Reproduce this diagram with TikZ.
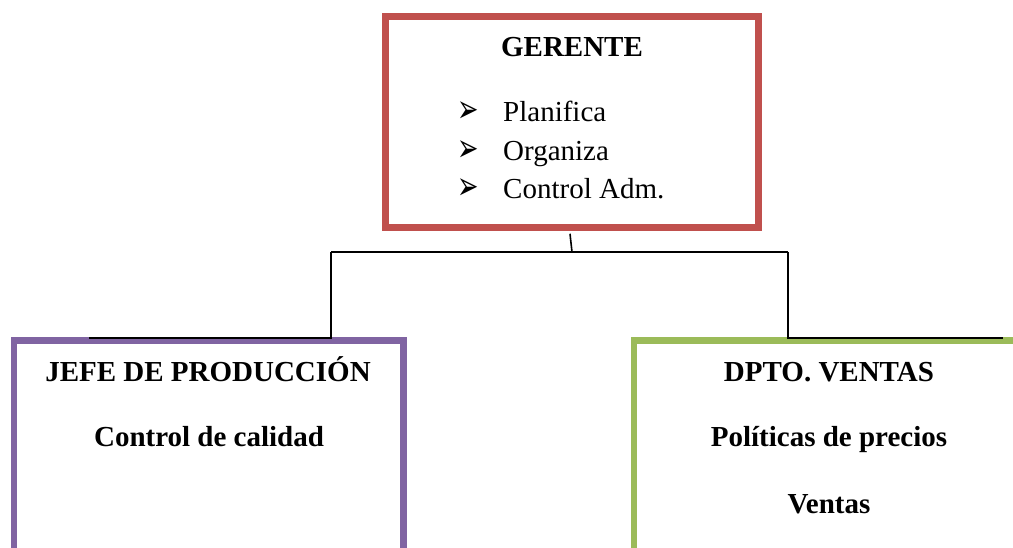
\documentclass[tikz,border=0pt]{standalone}
\usepackage{fontspec}
\setmainfont{Liberation Serif}
\newfontfamily\dingfont{DejaVu Sans}
\definecolor{redbox}{HTML}{C0504D}
\definecolor{purplebox}{HTML}{8064A2}
\definecolor{greenbox}{HTML}{9BBB59}
\begin{document}
\begin{tikzpicture}[x=1bp,y=-1bp,
  box/.style={draw, line width=6.5bp, rectangle, inner sep=0pt},
  conn/.style={draw=black, line width=1.6bp},
  txt/.style={inner sep=0pt, font=\fontsize{29bp}{35bp}\selectfont},
  btxt/.style={txt, font=\fontsize{29bp}{35bp}\selectfont\bfseries},
  bul/.style={inner sep=0pt, transform shape, xscale=0.95, yscale=1.45, font=\fontsize{27bp}{32bp}\selectfont\dingfont}]
\clip (0,0) rectangle (1013,548);
% boxes
\node[box, draw=redbox, minimum width=373bp, minimum height=211bp] (gerente) at (572,122) {};
\node[box, draw=purplebox, minimum width=389.5bp, minimum height=300bp] (jefe) at (208.75,490.5) {};
\node[box, draw=greenbox, minimum width=500bp, minimum height=300bp] (ventas) at (884,490.5) {};
% texts
\node[btxt, anchor=base] (tg) at (572,57) {GERENTE};
\node[bul, anchor=base west] (b1) at (457,123) {➢};
\node[bul, anchor=base west] (b2) at (457,162) {➢};
\node[bul, anchor=base west] (b3) at (457,200) {➢};
\node[txt, anchor=base west] (t1) at (503,122) {Planifica};
\node[txt, anchor=base west] (t2) at (503,161) {Organiza};
\node[txt, anchor=base west] (t3) at (503,199) {Control Adm.};
\node[btxt, anchor=base] (tj1) at (208,382) {JEFE DE PRODUCCIÓN};
\node[btxt, anchor=base] (tj2) at (209,446) {Control de calidad};
\node[btxt, anchor=base] (tv1) at (829,382) {DPTO. VENTAS};
\node[btxt, anchor=base] (tv2) at (829,446) {Políticas de precios};
\node[btxt, anchor=base] (tv3) at (829,513) {Ventas};
% connectors
\coordinate (gs) at ([xshift=-2bp,yshift=-3bp]gerente.south);
\coordinate (j) at (572,252);
\coordinate (jl) at (331,252);
\coordinate (jr) at (788,252);
\coordinate (ll) at (331,338);
\coordinate (lle) at (89,338);
\coordinate (rr) at (788,338);
\coordinate (rre) at (1003,338);
\draw[conn] (gs) -- (j);
\draw[conn] (jl) -- (jr);
\draw[conn] (jl) -- (ll) -- (lle);
\draw[conn] (jr) -- (rr) -- (rre);
\end{tikzpicture}
\end{document}
